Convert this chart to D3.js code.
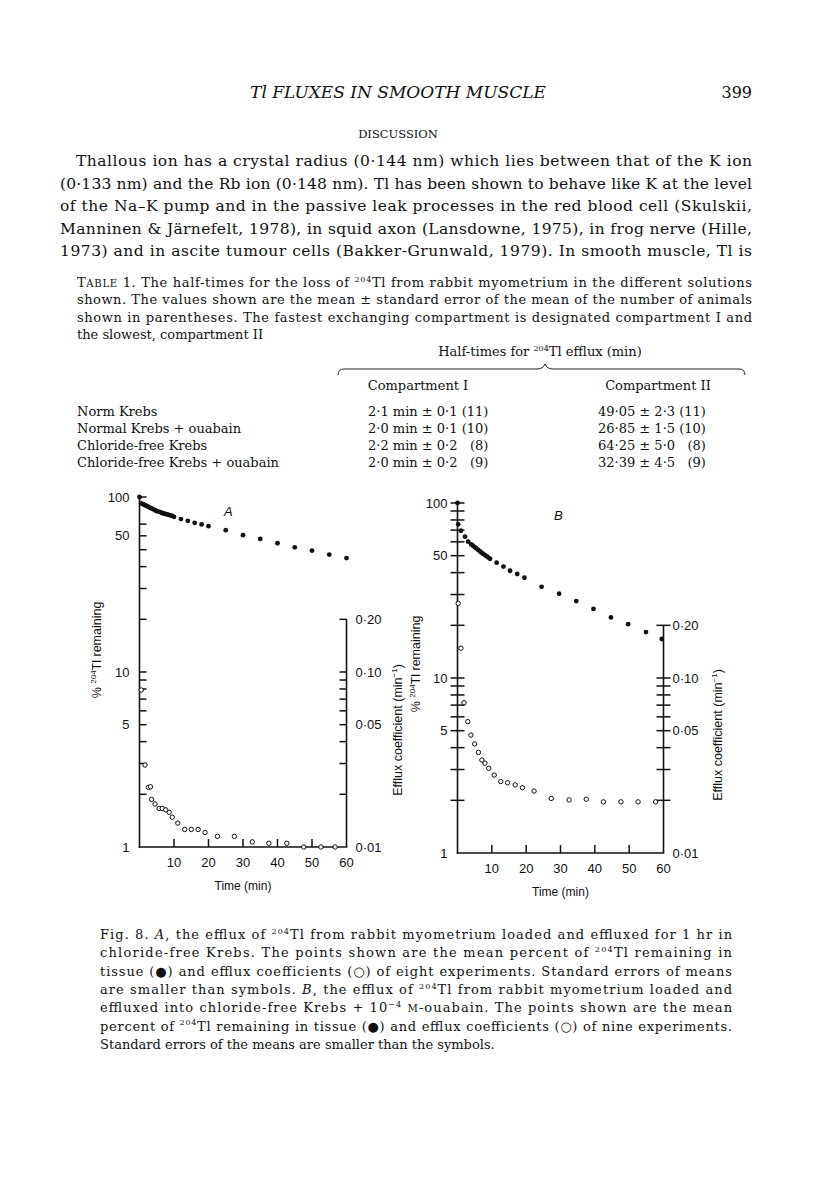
<!DOCTYPE html>
<html>
<head>
<meta charset="utf-8">
<script src="https://cdn.jsdelivr.net/npm/d3@7"></script>
<style>
  body { margin: 0; background: #fff; }
  svg text { fill: #111; }
</style>
</head>
<body>
<div id="page"></div>
<script>
// ---- Panel A: chloride-free Krebs (eight experiments) ----
const timeA_tissue = [0, 0.5, 1, 1.5, 2, 2.5, 3, 3.5, 4, 4.5, 5, 5.5, 6, 6.5, 7, 7.5, 8, 8.5, 9, 9.5, 10,
  12, 14, 16, 18, 20, 25, 30, 35, 40, 45, 50, 55, 60];
const remainA = [100, 92, 91, 90, 89, 88, 87, 86, 85, 84, 83, 82.5, 82, 81, 80.5, 80, 79.5, 79, 78.5, 78, 77,
  74.8, 73.1, 71.2, 69.7, 68.1, 64.6, 60.5, 57.6, 54.4, 51.6, 49.4, 46.9, 44.8];
const timeA_efflux = [0.5, 1.6, 2.6, 3.2, 3.5, 4.5, 5.7, 6.6, 7.6, 8.6, 9.5, 11.1, 13.1, 15, 17, 19,
  22.6, 27.5, 32.7, 37.5, 42.7, 47.6, 52.6, 56.7];
const effluxA = [0.0789, 0.0294, 0.0219, 0.0221, 0.0187, 0.0176, 0.0166, 0.0166, 0.0163, 0.0158, 0.0148,
  0.0137, 0.0126, 0.0126, 0.0126, 0.0121, 0.0115, 0.0115, 0.0107, 0.0105, 0.0105, 0.0100, 0.0100, 0.0100];

// ---- Panel B: chloride-free Krebs + ouabain (nine experiments) ----
const timeB_tissue = [0, 0.2, 1, 2.2, 3.1, 4, 4.5, 5, 5.5, 6, 6.5, 7, 7.5, 8, 8.5, 9, 9.5,
  11.4, 13.4, 15.3, 17.4, 19.5, 24.5, 29.6, 34.6, 39.6, 44.7, 49.7, 54.9, 59.5];
const remainB = [100, 75.5, 69.5, 64.2, 60.1, 58, 57, 56, 55, 54, 53, 52, 51.2, 50.4, 49.6, 48.8, 48,
  45.6, 43.3, 41, 39.3, 37.4, 33.2, 30.3, 27.5, 24.8, 22.2, 20.3, 18.3, 16.7];
const timeB_efflux = [0.2, 1.0, 1.9, 3.0, 3.9, 5.0, 6.1, 7.1, 8.0, 9.1, 10.7, 12.6, 14.6, 16.8, 18.9,
  22.3, 27.3, 32.5, 37.5, 42.5, 47.6, 52.6, 57.7];
const effluxB = [0.267, 0.148, 0.0722, 0.0563, 0.0472, 0.0420, 0.0376, 0.0340, 0.0326, 0.0305, 0.0279,
  0.0256, 0.0252, 0.0245, 0.0236, 0.0226, 0.0205, 0.0201, 0.0203, 0.0196, 0.0196, 0.0196, 0.0196];

// ---- axis ticks ----
const timeTicks = [10, 20, 30, 40, 50, 60];
const pctTicksA = [2, 3, 4, 5, 6, 7, 8, 9, 10, 20, 30, 40, 50, 60, 70, 100];
const pctTicksB = [2, 3, 4, 5, 6, 7, 8, 9, 10, 20, 30, 40, 50, 60, 70, 80, 90, 100];
const pctLabelValuesA = [100, 60, 10, 5, 1];   // the "50" label of A sits at the 60 tick in the print
const pctLabelValuesB = [100, 50, 10, 5, 1];
const pctLabelText = ["100", "50", "10", "5", "1"];
const coefTicks = [0.02, 0.03, 0.04, 0.05, 0.06, 0.07, 0.08, 0.09, 0.10, 0.20];
const coefLabelValues = [0.20, 0.10, 0.05, 0.01];
const coefLabelText = ["0·20", "0·10", "0·05", "0·01"];

// ---- table ----
const tableRows = ["Norm Krebs", "Normal Krebs + ouabain", "Chloride-free Krebs", "Chloride-free Krebs + ouabain"];
const compI = ["2·1 min ± 0·1 (11)", "2·0 min ± 0·1 (10)", "2·2 min ± 0·2   (8)", "2·0 min ± 0·2   (9)"];
const compII = ["49·05 ± 2·3 (11)", "26·85 ± 1·5 (10)", "64·25 ± 5·0   (8)", "32·39 ± 4·5   (9)"];

const W = 816, H = 1185;
const SERIF = "'DejaVu Serif', 'Liberation Serif', serif";
const SANS = "'Liberation Sans', Arial, sans-serif";

const svg = d3.select("#page").append("svg")
  .attr("width", W).attr("height", H)
  .style("background", "#fff");

// text line helper: parts are strings or {sup}/{small}/{it}
function textLine(g, x, y, parts, opts = {}) {
  const size = opts.size || 13;
  const t = g.append("text")
    .attr("x", x).attr("y", y)
    .attr("font-family", opts.family || SERIF)
    .attr("font-size", size)
    .attr("text-anchor", opts.anchor || "start")
    .attr("xml:space", "preserve");
  if (opts.italic) t.attr("font-style", "italic");
  if (opts.width) t.attr("textLength", opts.width).attr("lengthAdjust", "spacing");
  let lift = 0;
  parts.forEach((p) => {
    const s = t.append("tspan");
    if (typeof p === "string") {
      s.text(p);
      if (lift) { s.attr("dy", lift); lift = 0; }
    } else if (p.sup) {
      s.attr("font-size", size * 0.62).attr("dy", -size * 0.4).text(p.sup);
      lift = size * 0.4;
    } else if (p.small) {
      s.attr("font-size", size * 0.78).text(p.small);
      if (lift) { s.attr("dy", lift); lift = 0; }
    } else if (p.it) {
      s.attr("font-style", "italic").text(p.it);
      if (lift) { s.attr("dy", lift); lift = 0; }
    }
  });
  return t;
}

const page = svg.append("g");

// running head
textLine(page, 398, 98, ["Tl FLUXES IN SMOOTH MUSCLE"], { size: 17, anchor: "middle", italic: true });
textLine(page, 752, 98, ["399"], { size: 16, anchor: "end" });
textLine(page, 398, 138, ["DISCUSSION"], { size: 11.5, anchor: "middle" });

// paragraph
const para = [
  { x: 76, parts: ["Thallous ion has a crystal radius (0·144 nm) which lies between that of the K ion"] },
  { x: 60, parts: ["(0·133 nm) and the Rb ion (0·148 nm). Tl has been shown to behave like K at the level"] },
  { x: 60, parts: ["of the Na–K pump and in the passive leak processes in the red blood cell (Skulskii,"] },
  { x: 60, parts: ["Manninen & Järnefelt, 1978), in squid axon (Lansdowne, 1975), in frog nerve (Hille,"] },
  { x: 60, parts: ["1973) and in ascite tumour cells (Bakker-Grunwald, 1979). In smooth muscle, Tl is"] },
];
para.forEach((l, i) => {
  textLine(page, l.x, 166 + i * 22.6, l.parts, { size: 15.5, width: 752 - l.x });
});

// table caption
const tcap = [
  { parts: ["T", { small: "ABLE" }, " 1. The half-times for the loss of ", { sup: "204" }, "Tl from rabbit myometrium in the different solutions"], just: true },
  { parts: ["shown. The values shown are the mean ± standard error of the mean of the number of animals"], just: true },
  { parts: ["shown in parentheses. The fastest exchanging compartment is designated compartment I and"], just: true },
  { parts: ["the slowest, compartment II"], just: false },
];
tcap.forEach((l, i) => {
  textLine(page, 77, 287 + i * 17.3, l.parts, { size: 13, width: l.just ? 675 : null });
});

textLine(page, 540, 356, ["Half-times for ", { sup: "204" }, "Tl efflux (min)"], { size: 13, anchor: "middle" });
page.append("path")
  .attr("d", "M338,375 Q338,369 344,369 L537,369 Q543,369 545,364 Q547,369 553,369 L739,369 Q745,369 745,375")
  .attr("fill", "none").attr("stroke", "#222").attr("stroke-width", 1);
textLine(page, 418, 390, ["Compartment I"], { size: 13, anchor: "middle" });
textLine(page, 658, 390, ["Compartment II"], { size: 13, anchor: "middle" });

tableRows.forEach((r, i) => {
  const y = 416 + i * 17;
  textLine(page, 77, y, [r], { size: 13 });
  textLine(page, 368, y, [compI[i]], { size: 13 });
  textLine(page, 598, y, [compII[i]], { size: 13 });
});

// ---- panels ----
function drawPanel(cfg) {
  const g = svg.append("g");
  const x = d3.scaleLinear().domain([0, 60]).range(cfg.xRange);
  const y = d3.scaleLog().domain([1, 100]).range(cfg.yRange);
  const yR = d3.scaleLog().domain([0.01, 1]).range(cfg.yRange);
  const x0 = x(0), x60 = x(60);

  const line = (x1, y1, x2, y2, w) => g.append("line")
    .attr("x1", x1).attr("y1", y1).attr("x2", x2).attr("y2", y2)
    .attr("stroke", "#111").attr("stroke-width", w || 1.6);

  // axes lines
  line(x0, y(100), x0, y(1) + 0.8);
  line(x0 - 0.8, y(1), x60 + 0.8, y(1));
  line(x60, yR(0.2), x60, yR(0.01));

  // left ticks
  cfg.pctTicks.forEach((v) => {
    line(cfg.leftCross ? x0 - 7 : x0, y(v), x0 + 7, y(v), 1.5);
  });
  // right ticks
  coefTicks.forEach((v) => {
    line(x60 - 7, yR(v), cfg.rightCross ? x60 + 7 : x60, yR(v), 1.5);
  });
  // time ticks
  timeTicks.filter((t) => t < 60).forEach((t) => line(x(t), y(1), x(t), y(1) - 8, 1.5));

  // tick labels
  cfg.pctLabelValues.forEach((v, i) => {
    g.append("text").attr("x", x0 - 10).attr("y", y(v) + 4.5)
      .attr("text-anchor", "end").attr("font-family", SANS).attr("font-size", 13)
      .text(pctLabelText[i]);
  });
  coefLabelValues.forEach((v, i) => {
    g.append("text").attr("x", x60 + 9).attr("y", yR(v) + 4.5)
      .attr("font-family", SANS).attr("font-size", 13)
      .text(coefLabelText[i]);
  });
  timeTicks.forEach((t) => {
    g.append("text").attr("x", x(t)).attr("y", y(1) + 20)
      .attr("text-anchor", "middle").attr("font-family", SANS).attr("font-size", 13)
      .text(t);
  });
  g.append("text").attr("x", (x0 + x60) / 2).attr("y", y(1) + 43)
    .attr("text-anchor", "middle").attr("font-family", SANS).attr("font-size", 12)
    .text("Time (min)");

  // axis titles
  const lt = g.append("text")
    .attr("transform", `translate(${cfg.leftTitle[0]},${cfg.leftTitle[1]}) rotate(-90)`)
    .attr("text-anchor", "middle").attr("font-family", SANS).attr("font-size", 12.5);
  lt.append("tspan").text("% ");
  lt.append("tspan").attr("font-size", 8).attr("dy", -5).text("204");
  lt.append("tspan").attr("dy", 5).text("Tl remaining");

  const rt = g.append("text")
    .attr("transform", `translate(${cfg.rightTitle[0]},${cfg.rightTitle[1]}) rotate(-90)`)
    .attr("text-anchor", "middle").attr("font-family", SANS).attr("font-size", 12.5);
  rt.append("tspan").text("Efflux coefficient (min");
  rt.append("tspan").attr("font-size", 8).attr("dy", -5).text("−1");
  rt.append("tspan").attr("dy", 5).text(")");

  // panel letter
  g.append("text").attr("x", cfg.letterPos[0]).attr("y", cfg.letterPos[1])
    .attr("font-family", SANS).attr("font-size", 13).attr("font-style", "italic")
    .text(cfg.letter);

  // tissue (filled) points
  g.selectAll("circle.tissue")
    .data(d3.zip(cfg.tTissue, cfg.remain))
    .join("circle").attr("class", "tissue")
    .attr("cx", (d) => x(d[0])).attr("cy", (d) => y(d[1]))
    .attr("r", 2.4).attr("fill", "#111");

  // efflux coefficient (open) points
  g.selectAll("circle.efflux")
    .data(d3.zip(cfg.tEfflux, cfg.efflux))
    .join("circle").attr("class", "efflux")
    .attr("cx", (d) => x(d[0])).attr("cy", (d) => yR(d[1]))
    .attr("r", 2.2).attr("fill", "#fff").attr("stroke", "#111").attr("stroke-width", 1);
}

drawPanel({
  xRange: [139.5, 346.5], yRange: [847, 497],
  pctTicks: pctTicksA, pctLabelValues: pctLabelValuesA,
  leftCross: false, rightCross: false,
  leftTitle: [101, 650], rightTitle: [402, 730],
  letter: "A", letterPos: [224, 516],
  tTissue: timeA_tissue, remain: remainA, tEfflux: timeA_efflux, efflux: effluxA,
});

drawPanel({
  xRange: [457.5, 663.5], yRange: [853, 503],
  pctTicks: pctTicksB, pctLabelValues: pctLabelValuesB,
  leftCross: true, rightCross: true,
  leftTitle: [420, 664], rightTitle: [722, 735],
  letter: "B", letterPos: [554, 520],
  tTissue: timeB_tissue, remain: remainB, tEfflux: timeB_efflux, efflux: effluxB,
});

// figure legend
const legend = [
  { parts: ["Fig. 8. ", { it: "A" }, ", the efflux of ", { sup: "204" }, "Tl from rabbit myometrium loaded and effluxed for 1 hr in"], just: true },
  { parts: ["chloride-free Krebs. The points shown are the mean percent of ", { sup: "204" }, "Tl remaining in"], just: true },
  { parts: ["tissue (●) and efflux coefficients (○) of eight experiments. Standard errors of means"], just: true },
  { parts: ["are smaller than symbols. ", { it: "B" }, ", the efflux of ", { sup: "204" }, "Tl from rabbit myometrium loaded and"], just: true },
  { parts: ["effluxed into chloride-free Krebs + 10", { sup: "−4" }, " ", { small: "M" }, "-ouabain. The points shown are the mean"], just: true },
  { parts: ["percent of ", { sup: "204" }, "Tl remaining in tissue (●) and efflux coefficients (○) of nine experiments."], just: true },
  { parts: ["Standard errors of the means are smaller than the symbols."], just: false },
];
legend.forEach((l, i) => {
  textLine(page, 100, 939 + i * 18.3, l.parts, { size: 13, width: l.just ? 632 : null });
});
</script>
</body>
</html>
